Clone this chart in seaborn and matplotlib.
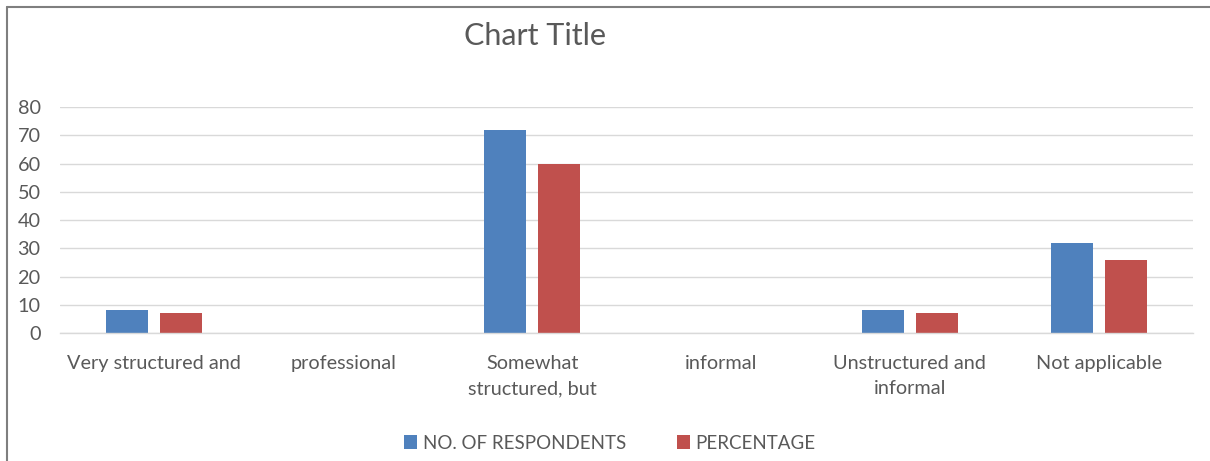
import matplotlib
matplotlib.use("Agg")
import matplotlib.pyplot as plt
import seaborn as sns
import pandas as pd
from matplotlib.lines import Line2D
from matplotlib.patches import Patch

categories = ["Very structured and", "professional", "Somewhat\nstructured, but",
              "informal", "Unstructured and\ninformal", "Not applicable"]
respondents = [8, 0, 72, 0, 8, 32]
percentage = [7, 0, 60, 0, 7, 26]
series_names = ["NO. OF RESPONDENTS", "PERCENTAGE"]
colors = ["#4f81bd", "#c0504d"]
yticks = [0, 10, 20, 30, 40, 50, 60, 70, 80]

df = pd.DataFrame({
    "category": categories * 2,
    "value": respondents + percentage,
    "series": [series_names[0]] * len(categories) + [series_names[1]] * len(categories),
})

sns.set_theme(style="white")
plt.rcParams["font.family"] = ["Lato", "DejaVu Sans"]
text_color = "#595959"

fig = plt.figure(figsize=(12.1, 4.61), dpi=100)
ax = fig.add_axes([60 / 1210, 1 - 333 / 461, 1133 / 1210, 226 / 461])

sns.barplot(data=df, x="category", y="value", hue="series", order=categories,
            hue_order=series_names, palette=colors, width=0.571, gap=0.22,
            saturation=1, ax=ax, legend=False, linewidth=0)

ax.set_ylim(0, 80)
ax.set_xlim(-0.5, len(categories) - 0.5)
ax.set_yticks(yticks)
ax.yaxis.grid(True, color="#d9d9d9", linewidth=1)
ax.set_axisbelow(True)
for s in ["top", "right", "left"]:
    ax.spines[s].set_visible(False)
ax.spines["bottom"].set_color("#d9d9d9")
ax.spines["bottom"].set_linewidth(1)
ax.tick_params(axis="both", length=0, labelsize=14.3, labelcolor=text_color)
ax.tick_params(axis="x", pad=15.5)
ax.tick_params(axis="y", pad=14)
for lbl in ax.get_xticklabels():
    lbl.set_verticalalignment("top")
    lbl.set_linespacing(1.62)
ax.set_xlabel("")
ax.set_ylabel("")

fig.text(535 / 1210, 1 - 36 / 461, "Chart Title", ha="center", va="center",
         fontsize=22, color=text_color)

handles = [Patch(facecolor=c, edgecolor="none") for c in colors]
fig.legend(handles, series_names, loc="center", bbox_to_anchor=(610 / 1210, 1 - 443 / 461),
           ncol=2, frameon=False, fontsize=13.5, labelcolor=text_color,
           handlelength=0.7, handleheight=0.7, handletextpad=0.3, columnspacing=2.7)

# outer chart frame (top and left edges visible)
fig.add_artist(Line2D([7 / 1210, 1], [1 - 7 / 461, 1 - 7 / 461], transform=fig.transFigure,
                      color="#7f7f7f", linewidth=1.5))
fig.add_artist(Line2D([7 / 1210, 7 / 1210], [0, 1 - 7 / 461], transform=fig.transFigure,
                      color="#7f7f7f", linewidth=1.5))

fig.savefig("out.png", dpi=100)
